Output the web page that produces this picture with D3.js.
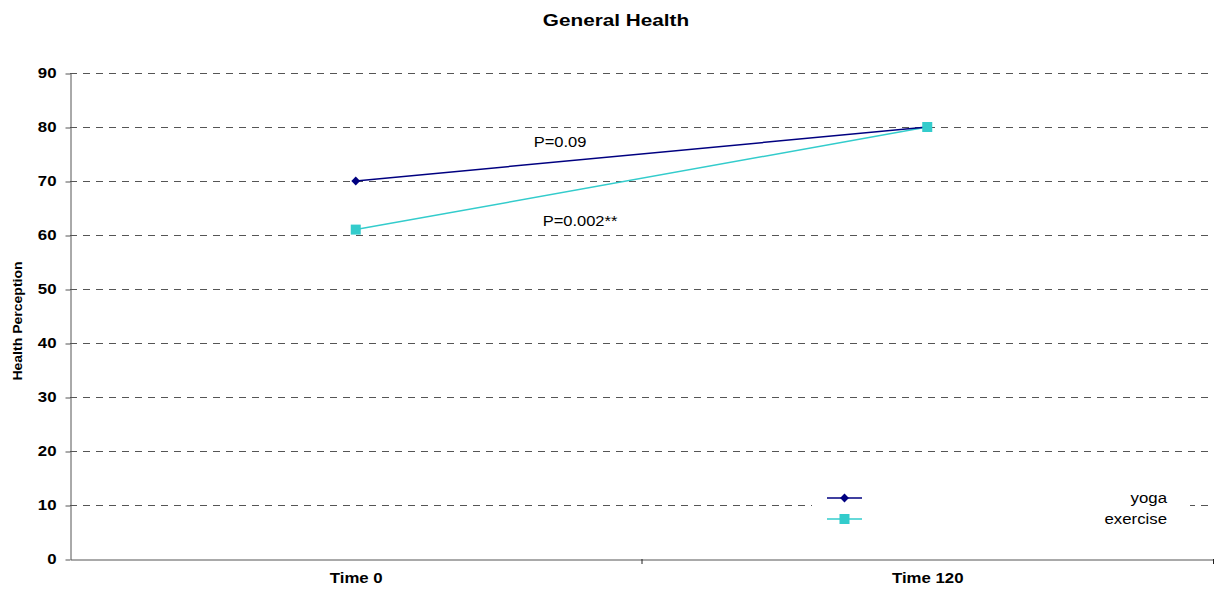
<!DOCTYPE html>
<html>
<head>
<meta charset="utf-8">
<script src="https://cdn.jsdelivr.net/npm/d3@7"></script>
<style>
  body { margin: 0; background: #fff; }
  svg { font-family: "Liberation Sans", Arial, sans-serif; }
</style>
</head>
<body>
<div id="chart"></div>
<script>
const times = ['Time 0', 'Time 120']
const yoga = [70, 80]
const exercise = [61, 80]
const yTicks = [0, 10, 20, 30, 40, 50, 60, 70, 80, 90]
const seriesNames = ['yoga', 'exercise']
const pLabels = ['P=0.09', 'P=0.002**']

const width = 1220
const height = 593
const plotLeft = 70
const plotRight = 1213
const plotTop = 73
const plotBottom = 559
const sx = 1.2 // the original text is drawn a bit wide

const svg = d3.select('#chart')
  .append('svg')
  .attr('width', width)
  .attr('height', height)

const x = d3.scaleBand().domain(times).range([plotLeft, plotRight])
const y = d3.scaleLinear().domain([0, 90]).range([plotBottom, plotTop])

// wide text helper
function label(px, py, str, size, opts = {}) {
  const g = svg.append('g')
    .attr('transform', `translate(${px},${py})${opts.rotate ? ' rotate(' + opts.rotate + ')' : ''}`)
  g.append('text')
    .attr('transform', `scale(${opts.sx || sx},1)`)
    .attr('text-anchor', opts.anchor || 'middle')
    .attr('font-size', size)
    .attr('font-weight', opts.bold ? 'bold' : null)
    .attr('fill', '#000')
    .text(str)
  return g
}

// gridlines
svg.append('g')
  .selectAll('line')
  .data(yTicks.filter((d) => d > 0))
  .join('line')
  .attr('x1', plotLeft)
  .attr('x2', plotRight)
  .attr('y1', (d) => y(d) + 0.5)
  .attr('y2', (d) => y(d) + 0.5)
  .attr('stroke', '#555')
  .attr('stroke-width', 1)
  .attr('stroke-dasharray', '7,6')

// y axis
svg.append('g')
  .attr('transform', `translate(${plotLeft + 0.5},0.5)`)
  .call(d3.axisLeft(y).tickValues(yTicks).tickSize(5).tickSizeOuter(0))
  .call((g) => g.select('.domain').attr('stroke', '#555'))
  .call((g) => g.selectAll('.tick line').attr('stroke', '#555'))
  .call((g) => g.selectAll('.tick text')
    .attr('font-size', 14)
    .attr('font-weight', 'bold')
    .attr('fill', '#000')
    .attr('transform', `scale(${sx},1)`)
    .attr('x', -14 / sx))

// x axis
svg.append('g')
  .attr('transform', `translate(0.5,${plotBottom + 0.5})`)
  .call(d3.axisBottom(x).tickSize(0).tickSizeOuter(0))
  .call((g) => g.select('.domain').attr('stroke', '#555'))
  .call((g) => g.selectAll('.tick text')
    .attr('font-size', 14)
    .attr('font-weight', 'bold')
    .attr('fill', '#000')
    .attr('transform', `scale(${sx},1)`)
    .attr('dy', '1.45em'))

// x tick marks at band boundaries
svg.append('g')
  .selectAll('line')
  .data(times)
  .join('line')
  .attr('x1', (d) => x(d) + x.bandwidth() + 0.5)
  .attr('x2', (d) => x(d) + x.bandwidth() + 0.5)
  .attr('y1', plotBottom)
  .attr('y2', plotBottom + 5)
  .attr('stroke', '#222')

const cx = (i) => x(times[i]) + x.bandwidth() / 2

const series = [
  { name: seriesNames[0], values: yoga, color: '#000080' },
  { name: seriesNames[1], values: exercise, color: '#33cccc' }
]

const line = d3.line()
  .x((d, i) => cx(i))
  .y((d) => y(d))

// exercise drawn first so yoga sits on top
series.slice().reverse().forEach((s) => {
  svg.append('path')
    .datum(s.values)
    .attr('fill', 'none')
    .attr('stroke', s.color)
    .attr('stroke-width', 1.5)
    .attr('d', line)
})

// markers
const diamond = d3.symbol().type(d3.symbolDiamond2).size(50)
svg.append('g')
  .selectAll('path')
  .data(yoga)
  .join('path')
  .attr('transform', (d, i) => `translate(${cx(i)},${y(d)})`)
  .attr('d', diamond)
  .attr('fill', '#000080')

svg.append('g')
  .selectAll('rect')
  .data(exercise)
  .join('rect')
  .attr('x', (d, i) => cx(i) - 5)
  .attr('y', (d) => y(d) - 5)
  .attr('width', 10)
  .attr('height', 10)
  .attr('fill', '#33cccc')

// p-value annotations
label(560, 147, pLabels[0], 15, { sx: 1.1 })
label(580, 226, pLabels[1], 15, { sx: 1.1 })

// title
label(616, 26, 'General Health', 17, { bold: true, sx: 1.22 })

// y axis title
label(22, (plotTop + plotBottom) / 2 + 5, 'Health Perception', 13, { bold: true, rotate: -90, sx: 1.08 })

// legend
const legend = svg.append('g')
legend.append('rect')
  .attr('x', 812)
  .attr('y', 485)
  .attr('width', 378)
  .attr('height', 46)
  .attr('fill', '#fff')

series.forEach((s, i) => {
  const ly = 498 + i * 21
  legend.append('line')
    .attr('x1', 827)
    .attr('x2', 862)
    .attr('y1', ly)
    .attr('y2', ly)
    .attr('stroke', s.color)
    .attr('stroke-width', 1.5)
  if (i === 0) {
    legend.append('path')
      .attr('transform', `translate(844.5,${ly})`)
      .attr('d', diamond)
      .attr('fill', s.color)
  } else {
    legend.append('rect')
      .attr('x', 839.5)
      .attr('y', ly - 5)
      .attr('width', 10)
      .attr('height', 10)
      .attr('fill', s.color)
  }
  label(1167, ly + 5, s.name, 15, { anchor: 'end', sx: 1.12 })
})
</script>
</body>
</html>
